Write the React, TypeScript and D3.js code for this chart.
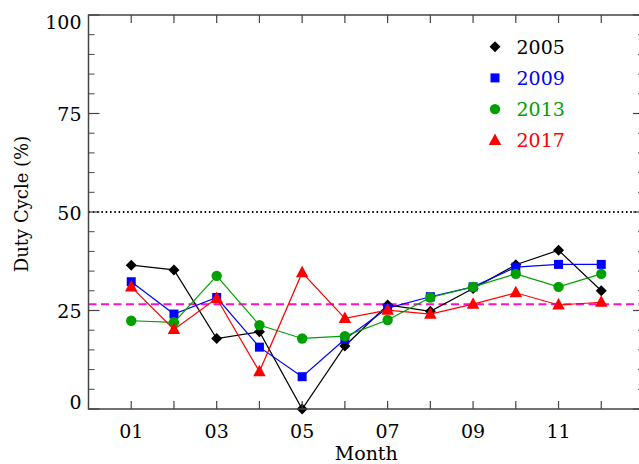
import React from "react";
import * as d3 from "d3";

const months = [1, 2, 3, 4, 5, 6, 7, 8, 9, 10, 11, 12];
const xTickLabels = ["01", "03", "05", "07", "09", "11"];
const yTicks = [0, 25, 50, 75, 100];

const years = ["2005", "2009", "2013", "2017"];
const v2005 = [36.5, 35.3, 17.9, 19.6, 0, 16.0, 26.4, 24.8, 30.6, 36.6, 40.3, 30.0];
const v2009 = [32.3, 24.1, 28.3, 15.7, 8.2, 17.7, 25.6, 28.5, 31.0, 36.0, 36.7, 36.7];
const v2013 = [22.4, 22.0, 33.8, 21.3, 17.9, 18.5, 22.6, 28.3, 31.0, 34.3, 31.0, 34.3];
const v2017 = [31.0, 20.2, 28.1, 9.5, 34.6, 23.0, 25.1, 24.1, 26.6, 29.5, 26.4, 27.1];
const meanLine = 26.6;
const halfLine = 50;

const colors = ["#000000", "#0000ff", "#00a000", "#ff0000"];
const shapes = ["diamond", "square", "circle", "triangle"];
const seriesValues = [v2005, v2009, v2013, v2017];

const W = 639;
const H = 464;
const x0 = 88.5, x1 = 644, yBottom = 409, yTop = 15;
const FONT = "'DejaVu Serif', serif";

function Marker({ shape, cx, cy, color }: { shape: string; cx: number; cy: number; color: string }) {
  if (shape === "diamond") {
    const r = 5.5;
    return <path d={`M${cx},${cy - r}L${cx + r},${cy}L${cx},${cy + r}L${cx - r},${cy}Z`} fill={color} />;
  }
  if (shape === "square") {
    const s = 9;
    return <rect x={cx - s / 2} y={cy - s / 2} width={s} height={s} fill={color} />;
  }
  if (shape === "circle") {
    return <circle cx={cx} cy={cy} r={5.2} fill={color} />;
  }
  const w = 12.5, h = 11.5;
  return <path d={`M${cx},${cy - h * 0.6}L${cx + w / 2},${cy + h * 0.4}L${cx - w / 2},${cy + h * 0.4}Z`} fill={color} />;
}

export default function App() {
  const x = d3.scaleLinear().domain([0, 13]).range([x0, x1]);
  const y = d3.scaleLinear().domain([0, 100]).range([yBottom, yTop]);
  const line = d3.line<number>().x((_, i) => x(months[i])).y((d) => y(d));
  const minorY = d3.range(0, 101, 5).filter((v) => v % 25 !== 0);
  const xTicks = d3.range(1, 13);
  const axisColor = "#444";
  const labelOffset = (v: number) => (v === 100 ? 14 : v === 0 ? 0 : 7.5);

  return (
    <svg width={W} height={H} style={{ position: "absolute", left: 0, top: 0, background: "#fff" }}>
      <g fontFamily={FONT} fontSize={19}>
        {/* reference lines */}
        <line x1={x0} x2={x1} y1={y(halfLine)} y2={y(halfLine)} stroke="#000" strokeWidth={2} strokeDasharray="1.5,2.8" />
        <line x1={x0} x2={x1} y1={y(meanLine)} y2={y(meanLine)} stroke="#ff10c8" strokeWidth={2} strokeDasharray="8,4.5" />

        {/* series */}
        {seriesValues.map((vals, si) => (
          <g key={years[si]}>
            <path d={line(vals) || ""} fill="none" stroke={colors[si]} strokeWidth={1.2} />
            {vals.map((v, i) => (
              <Marker key={i} shape={shapes[si]} cx={x(months[i])} cy={y(v)} color={colors[si]} />
            ))}
          </g>
        ))}

        {/* axes box */}
        <rect x={x0} y={yTop} width={x1 - x0} height={yBottom - yTop} fill="none" stroke={axisColor} strokeWidth={1.5} />

        {/* y ticks */}
        {yTicks.map((v) => (
          <g key={"y" + v}>
            <line x1={x0} x2={x0 + 11} y1={y(v)} y2={y(v)} stroke={axisColor} strokeWidth={1.2} />
            <line x1={x1} x2={x1 - 11} y1={y(v)} y2={y(v)} stroke={axisColor} strokeWidth={1.2} />
            <text x={81.5} y={y(v) + labelOffset(v)} textAnchor="end" fill="#000">{v}</text>
          </g>
        ))}
        {minorY.map((v) => (
          <g key={"m" + v}>
            <line x1={x0} x2={x0 + 6} y1={y(v)} y2={y(v)} stroke={axisColor} strokeWidth={1} />
            <line x1={x1} x2={x1 - 6} y1={y(v)} y2={y(v)} stroke={axisColor} strokeWidth={1} />
          </g>
        ))}

        {/* x ticks */}
        {xTicks.map((m) => (
          <g key={"x" + m}>
            <line x1={x(m)} x2={x(m)} y1={yBottom} y2={yBottom - 8} stroke={axisColor} strokeWidth={1.2} />
            <line x1={x(m)} x2={x(m)} y1={yTop} y2={yTop + 8} stroke={axisColor} strokeWidth={1.2} />
          </g>
        ))}
        {xTickLabels.map((lab) => (
          <text key={lab} x={x(+lab)} y={438} textAnchor="middle" fill="#000">{lab}</text>
        ))}

        {/* axis titles */}
        <text x={(x0 + x1) / 2} y={459.5} textAnchor="middle" fill="#000">Month</text>
        <text transform={`translate(28, ${204}) rotate(-90)`} textAnchor="middle" fill="#000" fontSize={18}>Duty Cycle (%)</text>

        {/* legend */}
        {years.map((yr, i) => {
          const cy = 46.7 + i * 31.2;
          return (
            <g key={"leg" + yr}>
              <Marker shape={shapes[i]} cx={495} cy={cy} color={colors[i]} />
              <text x={516.5} y={cy + 7} fill={colors[i]}>{yr}</text>
            </g>
          );
        })}
      </g>
    </svg>
  );
}
